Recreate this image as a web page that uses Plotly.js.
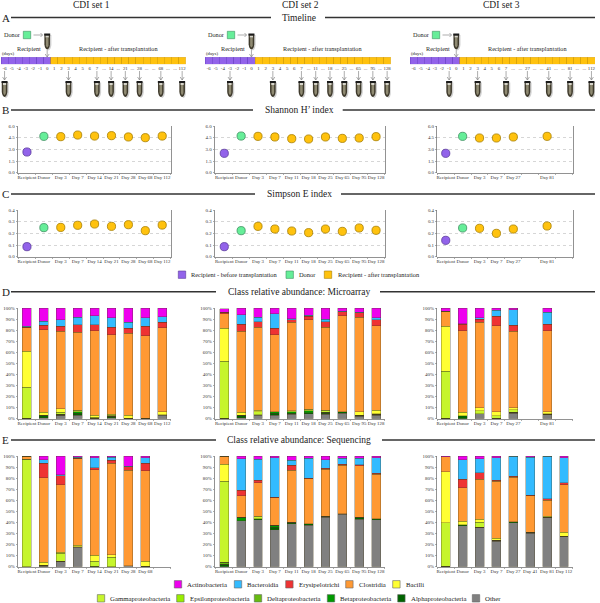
<!DOCTYPE html>
<html><head><meta charset="utf-8">
<script src="https://cdn.plot.ly/plotly-3.0.1.min.js"></script>
<style>html,body{margin:0;padding:0;background:#fff}#c{width:600px;height:603px}</style>
</head><body><div id="c"></div>
<script>
const SERIF='Liberation Serif, Times New Roman, serif';
const classNames=['Other','Alphaproteobacteria','Betaproteobacteria','Deltaproteobacteria','Epsilonproteobacteria','Gammaproteobacteria','Bacilli','Clostridia','Erysipelotrichi','Bacteroidia','Actinobacteria'];
const classColors=['#808080','#006400','#009a00','#66bb11','#99ee00','#c6f52c','#ffff33','#ff9933','#ee3333','#33bbff','#ee00ee'];

const labels1=['Recipient','Donor','Day 3','Day 7','Day 14','Day 21','Day 28','Day 68','Day 112'];
const labels2=['Recipient','Donor','Day 3','Day 7','Day 11','Day 18','Day 25','Day 65','Day 95','Day 128'];
const labels3=['Recipient','Donor','Day 3','Day 7','Day 27','Day 81'];
const slots3=[0,1,2,3,4,6];
const labelsSeq1=['Recipient','Donor','Day 3','Day 7','Day 14','Day 21','Day 28','Day 68'];
const labelsSeq3=['Recipient','Donor','Day 3','Day 7','Day 27','Day 41','Day 81','Day 112'];

const shannon1=[2.66,4.67,4.63,4.84,4.71,4.76,4.59,4.5,4.71];
const shannon2=[2.49,4.71,4.67,4.59,4.37,4.33,4.59,4.41,4.46,4.63];
const shannon3=[2.49,4.67,4.46,4.46,4.59,4.67];
const simpson1=[.086,.249,.251,.269,.28,.26,.274,.223,.271];
const simpson2=[.086,.223,.26,.237,.22,.206,.237,.217,.246,.226];
const simpson3=[.14,.246,.243,.2,.237,.263];

// each row is one sample; columns follow classNames
const micro1=[
[0,.5,0,0,0,28,32.5,21,.5,1,16.5],
[1,2,0,0,0,0,3,74.5,4,3.5,12],
[3,0,1,0,0,2,3,70,4.5,6,10.5],
[3,2,1.5,0,0,.5,.5,70.5,7,6.5,8.5],
[.5,0,0,0,0,1,1.5,76.5,5.5,8,7],
[1,1,0,0,0,1,1,72,6.5,8.5,9],
[.5,0,0,0,0,0,2.5,74,4.5,5.5,13],
[.5,0,0,0,0,0,0,74.5,8.5,7.5,9],
[3,.5,0,0,0,0,3,75.5,5,5,8]];
const micro2=[
[0,.5,0,0,0,51.5,29.5,13.5,1,0,3.5],
[1,2,0,0,0,0,3,73,6.5,8.5,6],
[3,.5,0,0,0,3,1,75,5,4,8.5],
[3,2,1.5,0,0,0,0,69.5,5.5,13.5,5],
[4,1,1.5,0,0,.5,0,80,2.5,1,9.5],
[4.5,1,1.5,0,0,1,.5,81,3,1,6.5],
[4,1,1,0,0,1,.5,75,5,2.5,10],
[5,1.5,0,0,0,0,0,86.5,3.5,.5,3],
[2,1,0,0,0,0,3.5,85,4,.5,4],
[3,1,0,0,0,.5,3,76.5,5.5,1.5,9]];
const micro3=[
[0,.5,0,0,0,42.3,40.9,13.3,0,0,3],
[0,2.5,0,0,0,0,3.5,73.5,6,.5,14],
[4.5,0,0,0,0,2.5,3,77,3,1,9],
[.5,0,0,0,0,2,4,77.5,8.5,5.5,2],
[5,1,0,0,0,2,2,69,5.5,14,1.5],
[3.5,.5,0,0,0,.5,2,73,6,10.5,4]];
const seq1=[
[0,0,0,0,0,97,0,3,0,0,0],
[.5,1,0,0,0,0,2.5,76.5,13,3,3.5],
[5,0,0,0,0,7,1,61,8,1,17],
[17.5,.5,0,0,0,0,1.5,78,.3,1,1.2],
[0,0,0,.5,0,4.5,5.5,77,2,9,1.5],
[0,0,0,0,0,8.5,2.5,82.5,2.5,3,1],
[1,0,0,0,0,0,0,86,3.5,.3,9.2],
[0,.5,0,0,0,0,4.5,81.5,7,5,1.5]];
const seq2=[
[0,2,0,2,0,73,15.5,7.5,0,0,0],
[41.5,0,3,0,0,0,0,19.5,5,28.5,2.5],
[42.5,1,0,0,0,1.5,.5,30.5,2,19,3],
[33.5,2,2,0,0,0,0,25,.3,35.7,1.5],
[39,1,0,0,0,0,0,47,4.5,4.5,4],
[37.5,1.5,0,0,0,0,0,40.5,.3,18.2,2],
[44.5,1,0,0,0,0,0,42.5,1,7.5,3.5],
[47.5,.5,0,0,0,0,0,43.5,1,5.5,2],
[43,1.5,0,0,0,0,0,46.5,1,6,2],
[42.5,1,0,0,0,0,0,40,1,14,1.5]];
const seq3=[
[0,.5,0,0,0,39,46.5,13.5,0,0,.5],
[37,1,0,0,0,0,3,30.5,7.5,17.5,3.5],
[35.5,0,0,0,0,4.5,3,36,6,12.5,2.5],
[23,1,0,0,0,0,1.5,51.5,1,20.5,1.5],
[39.5,1,0,0,0,0,0,40.5,.5,18.5,0],
[30,1,0,0,0,0,0,33,.5,34.5,1],
[44,.5,0,0,0,0,1,14.5,1.5,38.5,0],
[27,.5,0,0,0,0,3.5,43,2,22.5,1.5]];

const cellDays=[-6,-5,-4,-3,-2,-1,0,1,2,3,4,5,6,7,8,9,10,11,12,13,14,15,16,17,18,19];
const timeLabels1=['-6','-5','-4','-3','-2','-1','0','1','2','3','4','5','6','7','...','14','...','21','...','28','...','...','68','...','...','112'];
const timeLabels2=['-6','-5','-4','-3','-2','-1','0','1','2','3','4','5','6','7','...','11','...','18','...','25','...','65','...','95','...','128'];
const timeLabels3=['-6','-5','-4','-3','-2','-1','0','1','2','3','4','5','6','7','...','...','27','...','...','41','...','...','81','...','...','112'];
const tubes1=[-6,3,7,9,11,13,16,19];
const tubes2=[-3,3,7,9,11,13,15,17,19];
const tubes3=[-1,3,7,10,13,16,19];

const PURPLE='#9263ea',PURPLE_L='#5b3a9c',GREEN='#66ee99',GREEN_L='#3d8f60',GOLD='#ffc20e',GOLD_L='#a67d00';
const W=600,H=603;
const px=x=>x/W, py=y=>1-y/H;
const domX=(a,b)=>[px(a),px(b)], domY=(a,b)=>[py(b),py(a)];
const traces=[],shapes=[],annotations=[];
const layout={width:W,height:H,margin:{l:0,r:0,t:0,b:0},paper_bgcolor:'#fff',plot_bgcolor:'#fff',barmode:'stack',showlegend:false,
  font:{family:SERIF,color:'#222'},shapes,annotations};
let axN=0;
function addAxes(xo,yo){
  axN++;
  const s=axN===1?'':axN;
  layout['xaxis'+s]=Object.assign({anchor:'y'+s,tickangle:0,zeroline:false,showgrid:false,tickfont:{family:SERIF,size:4.9,color:'#333'},ticklabeloverflow:'allow'},xo);
  layout['yaxis'+s]=Object.assign({anchor:'x'+s,zeroline:false,tickfont:{family:SERIF,size:4.9,color:'#333'},ticklabeloverflow:'allow'},yo);
  return {x:'x'+s,y:'y'+s};
}
function text(x,y,t,size,anchor,color){
  annotations.push({xref:'paper',yref:'paper',x:px(x),y:py(y),text:t,showarrow:false,xanchor:anchor||'center',yanchor:'middle',
    font:{family:SERIF,size:size,color:color||'#222'},borderpad:0,bgcolor:'rgba(0,0,0,0)'});
}
function rule(x0,x1,y){shapes.push({type:'line',xref:'paper',yref:'paper',x0:px(x0),x1:px(x1),y0:py(y),y1:py(y),line:{color:'#333',width:1.5}});}
function swatch(x,y,fill,line,sz){sz=sz||7.4;
  shapes.push({type:'rect',xref:'paper',yref:'paper',x0:px(x),x1:px(x+sz),y0:py(y-sz/2),y1:py(y+sz/2),fillcolor:fill,line:{color:line,width:.6}});}

function pix(xref,xa,ya,path,opts){
  shapes.push(Object.assign({type:'path',xref,yref:'paper',xsizemode:'pixel',ysizemode:'pixel',xanchor:xa,yanchor:py(ya),path,line:{width:0}},opts));
}
const BODY='M-2.8,-1 L2.8,-1 L2.8,-11 Q2.2,-15.5 0,-16 Q-2.2,-15.5 -2.8,-11 Z';
function tube(xref,xa,ya){
  pix(xref,xa,ya,'M-1.4,-1.5 L4.2,-1.5 L4.2,-11.5 Q3.6,-16 1.4,-17 Q-.8,-16 -1.4,-11.5 Z',{fillcolor:'rgba(120,120,120,.35)'});
  pix(xref,xa,ya,BODY,{fillcolor:'#3f3a2c'});
  pix(xref,xa,ya,'M-1.3,-4 L1.3,-4 L1.3,-12 Q.6,-14 0,-14 Q-.6,-14 -1.3,-12 Z',{fillcolor:'#8f8a72'});
  pix(xref,xa,ya,'M-1.6,-2 L1.6,-2 L1.6,-4 L-1.6,-4 Z',{fillcolor:'#d8d6cc'});
  pix(xref,xa,ya,'M-3,0 L3,0 L3,-2 L-3,-2 Z',{fillcolor:'#1b1b1b'});
}
function arrowDown(xref,xa,yTip,len){
  pix(xref,xa,yTip,`M0,${len} L0,0 M-2,3 L0,0 L2,3`,{line:{color:'#8a8a8a',width:.7}});
}

function timeline(x0,x1,tickText,tubeDays){
  const a=addAxes({domain:domX(x0,x1),range:[-6.5,19.5],tickvals:cellDays,ticktext:tickText,ticks:'',showline:false,fixedrange:true},
                  {domain:domY(57.3,64.3),range:[0,1],visible:false,fixedrange:true});
  traces.push({type:'bar',x:cellDays,y:cellDays.map(()=>1),width:1,xaxis:a.x,yaxis:a.y,
    marker:{color:cellDays.map(d=>d<=0?PURPLE:GOLD),line:{color:cellDays.map(d=>d<=0?'#6a42c4':'#cf9a08'),width:.5}},hoverinfo:'skip'});
  const off=x0-1;
  tubeDays.forEach(d=>{arrowDown(a.x,d,80,9);tube(a.x,d,81);});
  tube(a.x,0,33.5);arrowDown(a.x,0,57,7);
  text(off+21,35,'Donor',6.2,'right');
  swatch(off+23.3,35,GREEN,GREEN_L);
  shapes.push({type:'path',xref:'paper',yref:'paper',path:`M${px(off+33.5)},${py(35)} L${px(off+42.5)},${py(35)} M${px(off+40.5)},${py(33)} L${px(off+42.5)},${py(35)} L${px(off+40.5)},${py(37)}`,line:{color:'#8a8a8a',width:.7}});
  text(off+29,49,'Recipient',6.2,'center');
  text(off+118,49,'Recipient - after transplantation',6.2,'center');
  text(off+8,53.8,'(days)',4.8,'center');
}

const sets=[{d:[18,171],r:[-.53,8.52],n:9},{d:[215,385],r:[-.55,9.53],n:10},{d:[437.3,573.3],r:[-.5,7.55],n:8}];
function minorBounds(n){const t=[];for(let i=0;i<=n;i++)t.push(i-.5);return t;}
function xAxisOpts(set,vals,labs){
  return {domain:domX(set.d[0],set.d[1]),range:set.r,tickvals:vals,ticktext:labs,ticks:'',showline:true,linecolor:'#777',linewidth:.8,fixedrange:true,ticklen:0,
    minor:{tickvals:minorBounds(set.n),ticks:'outside',ticklen:1.5,tickcolor:'#777',tickwidth:.6,showgrid:false}};
}
function dots(set,pos,labs,vals,top,bot,ymax,dtick){
  const a=addAxes(xAxisOpts(set,pos,labs),
    {domain:domY(top,bot),range:[0,ymax],tickvals:[0,1,2,3,4].map(i=>i*dtick),tickformat:'.1f',ticks:'outside',ticklen:1.5,tickwidth:.6,tickcolor:'#777',showline:true,mirror:true,linecolor:'#777',linewidth:.8,
     showgrid:true,gridcolor:'#bbb',griddash:'dot',gridwidth:.6,fixedrange:true});
  traces.push({type:'scatter',mode:'markers',x:pos,y:vals,xaxis:a.x,yaxis:a.y,cliponaxis:false,hoverinfo:'skip',
    marker:{size:8.2,color:pos.map((p,i)=>i===0?PURPLE:i===1?GREEN:GOLD),line:{width:.8,color:pos.map((p,i)=>i===0?PURPLE_L:i===1?GREEN_L:GOLD_L)}}});
}
function bars(set,pos,labs,rows,top,bot){
  const a=addAxes(xAxisOpts(set,pos,labs),
    {domain:domY(top,bot),range:[0,100],tickvals:[0,10,20,30,40,50,60,70,80,90,100],ticktext:['0%','10%','20%','30%','40%','50%','60%','70%','80%','90%','100%'],ticks:'outside',ticklen:1.5,tickwidth:.6,tickcolor:'#777',showline:true,linecolor:'#777',linewidth:.8,showgrid:false,fixedrange:true});
  classNames.forEach((nm,c)=>{
    traces.push({type:'bar',name:nm,x:pos,y:rows.map(r=>r[c]),width:.53,xaxis:a.x,yaxis:a.y,hoverinfo:'skip',
      marker:{color:classColors[c],line:{color:'rgba(70,60,30,.65)',width:.5}}});
  });
}
const idx=a=>a.map((_,i)=>i);

timeline(1,185.7,timeLabels1,tubes1);
timeline(205,390.7,timeLabels2,tubes2);
timeline(410,595,timeLabels3,tubes3);

dots(sets[0],idx(labels1),labels1,shannon1,126,172.7,6,1.5);
dots(sets[1],idx(labels2),labels2,shannon2,126,172.7,6,1.5);
dots(sets[2],slots3,labels3,shannon3,126,172.7,6,1.5);
dots(sets[0],idx(labels1),labels1,simpson1,210,256.7,.4,.1);
dots(sets[1],idx(labels2),labels2,simpson2,210,256.7,.4,.1);
dots(sets[2],slots3,labels3,simpson3,210,256.7,.4,.1);
bars(sets[0],idx(labels1),labels1,micro1,308,418.7);
bars(sets[1],idx(labels2),labels2,micro2,308,418.7);
bars(sets[2],slots3,labels3,micro3,308,418.7);
bars(sets[0],idx(labelsSeq1),labelsSeq1,seq1,456,566.7);
bars(sets[1],idx(labels2),labels2,seq2,456,566.7);
bars(sets[2],idx(labelsSeq3),labelsSeq3,seq3,456,566.7);

// headers and section rules
text(91,4.5,'CDI set 1',9.5);text(300,4.5,'CDI set 2',9.5);text(501,4.5,'CDI set 3',9.5);
[['A',17.5,271,'Timeline',325],['B',110,253,'Shannon H\u2019 index',342.7],['C',194,255,'Simpson E index',341],
 ['D',291.7,216,'Class relative abundance: Microarray',380],['E',440,216,'Class relative abundance: Sequencing',382]].forEach(s=>{
  text(1,s[1],s[0],11,'left');rule(11,s[2],s[1]);text(299,s[1],s[3],9.5);rule(s[4],595,s[1]);
});

// legend under the diversity panels
swatch(178.3,274.7,PURPLE,PURPLE_L);text(190,274.7,'Recipient - before transplantation',6.4,'left');
swatch(286,274.7,GREEN,GREEN_L);text(298,274.7,'Donor',6.4,'left');
swatch(324.3,274.7,GOLD,GOLD_L);text(336.7,274.7,'Recipient - after transplantation',6.4,'left');

// class legend
const legendRow1=[['Actinobacteria',174.3],['Bacteroidia',234.3],['Erysipelotrichi',285.7],['Clostridia',345.7],['Bacilli',392.7]];
const legendRow2=[['Gammaproteobacteria',97.3],['Epsilonproteobacteria',176.7],['Deltaproteobacteria',254.3],['Betaproteobacteria',327.3],['Alphaproteobacteria',397.7],['Other',472.3]];
[[legendRow1,584.3],[legendRow2,598.3]].forEach(([row,y])=>row.forEach(([n,x])=>{
  swatch(x,y,classColors[classNames.indexOf(n)],'#666');text(x+12,y,n,6.8,'left');
}));

Plotly.newPlot('c',traces,layout,{staticPlot:true,displayModeBar:false});
</script></body></html>
